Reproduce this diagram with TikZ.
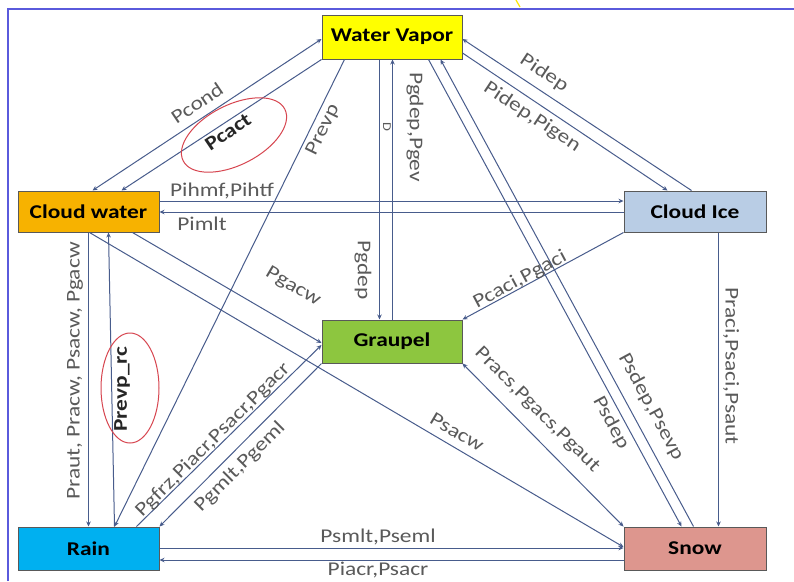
\documentclass[tikz,border=0pt]{standalone}
\usepackage{fontspec}
\setmainfont{Carlito}[FakeStretch=1.2]
\usetikzlibrary{arrows.meta,calc}
\definecolor{wvc}{RGB}{255,255,0}
\definecolor{cwc}{RGB}{247,178,0}
\definecolor{cic}{RGB}{185,205,229}
\definecolor{grc}{RGB}{141,198,63}
\definecolor{rac}{RGB}{0,176,240}
\definecolor{snc}{RGB}{221,150,142}
\definecolor{linec}{RGB}{72,92,140}
\definecolor{labc}{RGB}{90,90,90}
\definecolor{framec}{RGB}{90,90,220}
\definecolor{ringc}{RGB}{215,70,80}
\newcommand\myNodeFont{\fontsize{19.5}{22}\selectfont\bfseries}
\newcommand\myLabFont{\fontsize{19.5}{22}\selectfont}
\tikzset{
  box/.style={draw=black!65, line width=1pt, minimum width=140pt, minimum height=42pt, inner sep=0pt, font=\myNodeFont},
  conn/.style={draw=linec, line width=1pt, -{Stealth[length=5pt,width=4.5pt]}},
  biconn/.style={draw=linec, line width=1pt, {Stealth[length=5pt,width=4.5pt]}-{Stealth[length=5pt,width=4.5pt]}},
  lbl/.style={font=\myLabFont, text=labc, inner sep=0pt},
  blbl/.style={font=\myNodeFont, text=black!85, inner sep=0pt},
  ring/.style={draw=ringc, line width=1pt}
}
\begin{document}
\begin{tikzpicture}[x=1pt,y=-1pt]
\useasboundingbox (0,0) rectangle (794,581);
\fill[white] (0,0) rectangle (794,581);
% frame
\draw[framec, line width=2pt] (8,581) -- (8,9) -- (794,9);
\draw[yellow!90!orange, line width=1.2pt] (516,0) -- (520,7);

% nodes
\node[box, fill=wvc, minimum height=44pt] (WV) at (392,37) {Water Vapor};
\node[box, fill=cwc, minimum width=141pt, minimum height=41pt] (CW) at (88.5,211.5) {Cloud water};
\node[box, fill=cic, minimum width=142pt, minimum height=41pt] (CI) at (695,211.5) {Cloud Ice};
\node[box, fill=grc, minimum height=43pt] (GR) at (392,341.5) {Graupel};
\node[box, fill=rac, minimum width=141pt, minimum height=43pt] (RA) at (88.5,548.5) {Rain};
\node[box, fill=snc, minimum width=142pt, minimum height=43pt] (SN) at (695,548.5) {Snow};

% connectors
\draw[biconn] ($(CW.north west)+(75,0)$) -- ($(WV.west)+(0,2)$);
\draw[conn] (WV.south west) -- ($(CW.north west)+(104,0)$);
\draw[conn] ($(WV.south west)+(23,0)$) -- ($(RA.north west)+(97,0)$);
\draw[conn] ($(RA.north west)+(97,0)$) -- ($(CW.south west)+(91,0)$);
\draw[conn] ($(CW.south west)+(71,0)$) -- ($(RA.north west)+(71,0)$);
\draw[conn] ($(CW.south west)+(115,0)$) -- ($(GR.west)+(0,1.5)$);
\draw[conn] ($(CW.south west)+(72,0)$) -- ($(SN.west)+(0,-1.5)$);
\draw[conn] ($(WV.south west)+(58,0)$) -- ($(GR.north west)+(58,0)$);
\draw[conn] ($(GR.north west)+(71,0)$) -- ($(WV.south west)+(71,0)$);
\draw[conn] ($(WV.south west)+(107,0)$) -- ($(SN.north west)+(58,0)$);
\draw[conn] ($(SN.north west)+(70,0)$) -- ($(WV.south west)+(119,0)$);
\draw[conn] ($(CI.north west)+(68,0)$) -- ($(WV.east)+(0,2)$);
\draw[conn] ($(WV.east)+(0,16)$) -- ($(CI.north west)+(44,0)$);
\draw[conn] ($(CW.east)+(0,-10.5)$) -- ($(CI.west)+(0,-10.5)$);
\draw[conn] ($(CI.west)+(0,0.5)$) -- ($(CW.east)+(0,0.5)$);
\draw[conn] (CI.south west) -- (GR.north east);
\draw[conn] ($(CI.south west)+(95,0)$) -- ($(SN.north west)+(95,0)$);
\draw[biconn] (GR.south east) -- (SN.north west);
\draw[conn] ($(RA.north west)+(119,0)$) -- ($(GR.west)+(0,3.5)$);
\draw[conn] (GR.south west) -- (RA.north east);
\draw[conn] ($(RA.east)+(0,-0.5)$) -- ($(SN.west)+(0,-0.5)$);
\draw[conn] ($(SN.west)+(0,11.5)$) -- ($(RA.east)+(0,11.5)$);

% labels
\node[lbl, rotate=34] (lPcond) at (197,103) {Pcond};
\node[blbl, rotate=34] (lPcact) at (228,132) {Pcact};
\draw[ring] (234,135) ellipse [x radius=57, y radius=30, rotate=27];
\node[lbl, rotate=64] (lPrevp) at (323,130) {Prevp};
\node[lbl, rotate=-33.5] (lPidep) at (544,73) {Pidep};
\node[lbl, rotate=-33.5] (lPidepb) at (532,117) {Pidep,Pigen};
\node[lbl] (lPihmf) at (222,191) {Pihmf,Pihtf};
\node[lbl] (lPimlt) at (202,224) {Pimlt};
\node[lbl, rotate=-90] (lPgdep) at (363,270) {Pgdep};
\node[lbl, rotate=-90] (lPgdepb) at (415,127) {Pgdep,Pgev};
\node[lbl, rotate=-90, font=\fontsize{12}{14}\selectfont] (lD) at (387,127) {D};
\node[lbl, rotate=28] (lPcaci) at (520,280) {Pcaci,Pgaci};
\node[lbl, rotate=-90] (lPraci) at (731,366) {Praci,Psaci,Psaut};
\node[lbl, rotate=90] (lPraut) at (75,371) {Praut, Pracw, Psacw, Pgacw};
\node[blbl, rotate=90] (lPrevprc) at (122,389) {Prevp\_rc};
\draw[ring] (130,388) ellipse [x radius=29, y radius=55];
\node[lbl, rotate=-30.5] (lPgacw) at (293,287) {Pgacw};
\node[lbl, rotate=-30.5] (lPsacw) at (457,432) {Psacw};
\node[lbl, rotate=-45] (lPracs) at (537,410) {Pracs,Pgacs,Pgaut};
\node[lbl, rotate=-61.6] (lPsdep) at (611,423) {Psdep};
\node[lbl, rotate=-61.6] (lPsdepb) at (651,407) {Psdep,Psevp};
\node[lbl, rotate=45] (lPgfrz) at (213,440) {Pgfrz,Piacr,Psacr,Pgacr};
\node[lbl, rotate=45] (lPgmlt) at (240,467) {Pgmlt,Pgeml};
\node[lbl] (lPsmlt) at (378,537) {Psmlt,Pseml};
\node[lbl] (lPiacr) at (378,570) {Piacr,Psacr};
\end{tikzpicture}
\end{document}
